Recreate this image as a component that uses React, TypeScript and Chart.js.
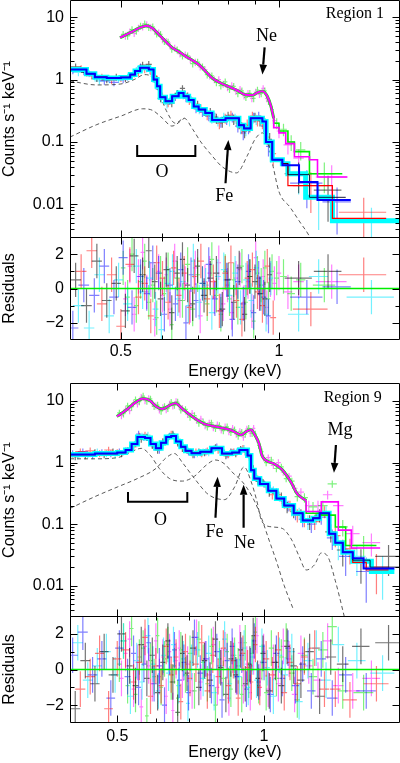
import { useEffect, useRef } from 'react';
import { Chart, registerables } from 'chart.js';
Chart.register(...registerables);

const SANS = '"Liberation Sans", Arimo, Arial, sans-serif';
const SERIF = '"Liberation Serif", "Times New Roman", serif';

// ================= REGION 1 =================
const R1_X_MIN = 0.4, R1_X_MAX = 1.7, R1_Y_MIN = 0.0029, R1_Y_MAX = 18.8;

const R1_LO_EDGES = [0.40, 0.43, 0.446, 0.47, 0.50, 0.521, 0.532, 0.544, 0.565, 0.577, 0.586, 0.594, 0.608, 0.626, 0.644, 0.658, 0.673, 0.688, 0.703, 0.724, 0.746, 0.791, 0.839, 0.858, 0.883, 0.930, 0.945, 0.971, 1.015];
const R1_LO_VALS = [1.45, 1.24, 1.09, 1.06, 1.08, 1.2, 1.37, 1.55, 1.45, 1.0, 0.78, 0.52, 0.45, 0.54, 0.61, 0.54, 0.47, 0.37, 0.33, 0.29, 0.226, 0.24, 0.186, 0.165, 0.24, 0.213, 0.10, 0.052];
const R1_BLK_TAIL_E = [1.015, 1.04, 1.143, 1.34];
const R1_BLK_TAIL_V = [0.045, 0.03, 0.013];
const R1_RED_TAIL_E = [1.015, 1.04, 1.264, 1.60];
const R1_RED_TAIL_V = [0.045, 0.02, 0.006];
const R1_BLU_TAIL_E = [1.015, 1.092, 1.184, 1.37];
const R1_BLU_TAIL_V = [0.0425, 0.0228, 0.0118];
const R1_CYA_TAIL_E = [1.015, 1.04, 1.124, 1.264, 1.70];
const R1_CYA_TAIL_V = [0.045, 0.031, 0.013, 0.0055];

const R1_UP_E = [0.498, 0.52, 0.54, 0.56, 0.575, 0.59, 0.61, 0.626, 0.645, 0.663, 0.683, 0.703, 0.725, 0.746, 0.77, 0.80, 0.83, 0.863, 0.89, 0.91, 0.93, 0.95, 0.965, 0.977];
const R1_UP_V = [4.7, 5.6, 6.6, 7.3, 6.6, 5.3, 4.0, 3.24, 2.8, 2.38, 2.05, 1.75, 1.35, 1.06, 0.9, 0.78, 0.68, 0.57, 0.56, 0.62, 0.65, 0.54, 0.38, 0.24];
const R1_MAG_TAIL_E = [0.977, 1.00, 1.03, 1.07, 1.143, 1.184, 1.35];
const R1_MAG_TAIL_V = [0.17, 0.14, 0.094, 0.058, 0.052, 0.0275];
const R1_GRN_TAIL_E = [0.977, 1.00, 1.04, 1.07, 1.143, 1.32];
const R1_GRN_TAIL_V = [0.2, 0.15, 0.1, 0.07, 0.031];

const R1_COMP_A_E = [0.40, 0.45, 0.50, 0.53, 0.555, 0.575, 0.59, 0.61, 0.635, 0.66, 0.685, 0.71, 0.74, 0.78, 0.83, 0.87, 0.90, 0.93, 0.955, 0.975, 1.0, 1.05, 1.10, 1.14, 1.17];
const R1_COMP_A_V = [0.95, 0.82, 0.85, 1.0, 1.2, 1.05, 0.65, 0.32, 0.2, 0.24, 0.16, 0.1, 0.065, 0.04, 0.032, 0.06, 0.11, 0.14, 0.09, 0.04, 0.016, 0.009, 0.005, 0.0032, 0.002];
const R1_COMP_B_E = [0.40, 0.45, 0.50, 0.55, 0.575, 0.60, 0.625, 0.66];
const R1_COMP_B_V = [0.12, 0.19, 0.26, 0.34, 0.32, 0.24, 0.18, 0.24];

const R1_BLK_E = [0.41, 0.43, 0.45, 0.47, 0.49, 0.51, 0.53, 0.55, 0.565, 0.58, 0.595, 0.61, 0.625, 0.64, 0.655, 0.67, 0.685, 0.70, 0.72, 0.74, 0.76, 0.78, 0.80, 0.82, 0.84, 0.86, 0.88, 0.90, 0.92, 0.94, 0.96, 1.09, 1.24];
const R1_BLK_V = [1.6, 1.3, 1.05, 1.0, 1.1, 1.05, 1.25, 1.7, 1.75, 1.1, 0.5, 0.48, 0.42, 0.6, 0.72, 0.55, 0.45, 0.4, 0.31, 0.3, 0.24, 0.21, 0.26, 0.23, 0.2, 0.15, 0.18, 0.25, 0.22, 0.2, 0.11, 0.031, 0.017];
const R1_BLK_R = [0.5, -1.0, 1.6, -0.7, 0.3, -1.3, 1.9, 0.8, 2.2, 0.4, -0.6, 1.1, -1.4, 0.9, 1.7, 0.2, -0.9, 1.3, -0.4, 0.6, 0.9, -1.2, 0.5, -0.8, 1.2, -1.5, 0.7, 0.4, -0.3, -0.6, 0.8, 0.6, 1.0];
const R1_RED_E = [0.42, 0.44, 0.46, 0.48, 0.50, 0.52, 0.54, 0.555, 0.57, 0.585, 0.60, 0.615, 0.63, 0.645, 0.66, 0.675, 0.69, 0.71, 0.73, 0.75, 0.77, 0.79, 0.81, 0.83, 0.85, 0.87, 0.89, 0.91, 0.93, 0.95, 0.975, 1.15, 1.45];
const R1_RED_V = [1.5, 1.15, 1.1, 0.98, 1.05, 1.15, 1.3, 1.45, 1.35, 1.05, 0.55, 0.42, 0.5, 0.58, 0.6, 0.45, 0.4, 0.35, 0.27, 0.25, 0.2, 0.24, 0.27, 0.22, 0.17, 0.19, 0.26, 0.22, 0.2, 0.12, 0.065, 0.02, 0.0075];
const R1_RED_R = [1.0, 2.2, -0.9, 0.8, -2.2, 1.4, -0.5, 0.3, -1.6, 1.5, 0.6, -0.8, 1.2, -0.4, 0.9, -1.1, 0.7, 1.6, -0.6, 0.4, -1.3, 0.9, 1.5, -0.7, -1.8, 0.6, 1.1, -0.2, -1.0, 1.3, -1.7, -1.2, 0.8];
const R1_BLU_E = [0.405, 0.425, 0.445, 0.465, 0.485, 0.505, 0.525, 0.545, 0.56, 0.575, 0.59, 0.605, 0.62, 0.635, 0.65, 0.665, 0.68, 0.695, 0.715, 0.735, 0.755, 0.775, 0.795, 0.815, 0.835, 0.855, 0.875, 0.895, 0.915, 0.935, 0.955, 1.13, 1.29];
const R1_BLU_V = [1.4, 1.35, 1.15, 0.95, 0.9, 1.0, 1.15, 1.6, 1.5, 1.35, 0.7, 0.5, 0.45, 0.52, 0.58, 0.5, 0.48, 0.34, 0.3, 0.26, 0.25, 0.21, 0.23, 0.25, 0.18, 0.14, 0.17, 0.25, 0.26, 0.18, 0.085, 0.022, 0.011];
const R1_BLU_R = [-2.3, 0.2, -0.4, 1.3, -0.5, 1.8, -1.1, 0.7, -0.3, 1.5, 0.9, -1.5, 0.2, -0.9, 1.1, -2.0, 0.8, -0.7, 0.3, 1.4, -0.6, -1.3, 0.5, -1.8, 0.4, -0.9, 1.0, -1.4, 0.6, -0.5, -1.6, -0.5, 0.1];
const R1_CYA_E = [0.415, 0.435, 0.455, 0.475, 0.495, 0.515, 0.535, 0.55, 0.567, 0.582, 0.597, 0.612, 0.627, 0.642, 0.657, 0.672, 0.687, 0.705, 0.725, 0.745, 0.765, 0.785, 0.805, 0.825, 0.845, 0.865, 0.885, 0.905, 0.925, 0.945, 0.965, 1.09, 1.19, 1.50];
const R1_CYA_V = [1.3, 1.25, 0.95, 1.0, 1.02, 1.1, 1.4, 1.5, 1.4, 0.9, 0.48, 0.4, 0.5, 0.6, 0.55, 0.5, 0.42, 0.33, 0.3, 0.24, 0.22, 0.25, 0.22, 0.24, 0.17, 0.16, 0.2, 0.23, 0.22, 0.15, 0.07, 0.03, 0.013, 0.0052];
const R1_CYA_R = [-1.0, -2.3, 0.8, -1.6, 0.5, -0.9, 1.3, -0.2, 0.6, -1.2, -2.4, 0.3, 1.0, -0.6, 0.4, -1.0, 1.6, -0.8, 0.2, -1.4, 0.7, 1.1, -0.4, 0.9, -1.1, 0.5, -0.7, 1.2, -0.3, -1.5, 0.6, -1.5, 0.7, -0.5];
const R1_GRN_E = [0.505, 0.515, 0.525, 0.535, 0.545, 0.555, 0.565, 0.575, 0.585, 0.595, 0.605, 0.615, 0.625, 0.64, 0.655, 0.67, 0.685, 0.70, 0.715, 0.73, 0.745, 0.76, 0.775, 0.79, 0.805, 0.82, 0.835, 0.85, 0.865, 0.88, 0.895, 0.91, 0.925, 0.94, 0.955, 0.97, 0.99, 1.02, 1.055, 1.10, 1.22];
const R1_GRN_V = [5.3, 5.0, 6.3, 6.0, 7.2, 7.8, 6.9, 7.0, 5.4, 5.3, 4.1, 4.0, 3.1, 3.0, 2.4, 2.4, 1.8, 1.9, 1.6, 1.2, 1.15, 0.9, 0.8, 0.92, 0.7, 0.78, 0.6, 0.66, 0.52, 0.6, 0.5, 0.68, 0.6, 0.66, 0.45, 0.33, 0.2, 0.16, 0.1, 0.075, 0.031];
const R1_GRN_R = [1.2, -0.5, 2.0, -1.0, 0.4, 1.6, -0.8, 0.2, -1.7, 0.9, -0.3, 1.1, -2.1, 0.6, -0.7, 1.4, -1.2, 0.8, 0.3, -0.9, 1.7, -0.4, -1.5, 1.0, -0.6, 0.5, -1.1, 1.3, -0.8, 0.7, -1.9, 0.9, 0.2, 1.2, -0.6, 1.0, 0.6, 0.7, -0.3, 0.5, 0.2];
const R1_MAG_E = [0.51, 0.52, 0.53, 0.54, 0.55, 0.56, 0.57, 0.58, 0.59, 0.60, 0.61, 0.62, 0.633, 0.648, 0.663, 0.678, 0.693, 0.708, 0.723, 0.738, 0.753, 0.768, 0.783, 0.798, 0.813, 0.828, 0.843, 0.858, 0.873, 0.888, 0.903, 0.918, 0.933, 0.948, 0.963, 0.98, 1.0, 1.04, 1.09, 1.26];
const R1_MAG_V = [5.0, 5.8, 5.5, 6.7, 7.0, 7.6, 6.8, 6.0, 5.6, 4.4, 4.1, 3.5, 3.2, 2.6, 2.5, 2.1, 1.9, 1.6, 1.45, 1.15, 1.0, 1.0, 0.85, 0.75, 0.8, 0.65, 0.7, 0.55, 0.6, 0.5, 0.63, 0.58, 0.72, 0.5, 0.4, 0.22, 0.15, 0.09, 0.055, 0.0275];
const R1_MAG_R = [-0.6, 1.3, -1.5, 0.7, 2.1, -0.2, 0.5, -1.8, 1.0, -0.4, 0.8, -1.2, 1.6, -0.7, 0.3, -1.0, 1.2, -1.6, 0.4, 0.9, -0.5, 1.5, -0.9, 0.2, -1.4, 0.6, 1.1, -0.8, 0.4, -1.3, 1.8, -0.3, 0.7, -1.1, 0.5, 0.3, 0.9, -0.2, 0.4, 0.4];

const R1_NOTES = [
  { kind: 'text', x: 1.395, y: 11.2, text: 'Region 1', size: 16 },
  { kind: 'text', x: 0.947, y: 4.94, text: 'Ne', size: 18 },
  { kind: 'arrow', x1: 0.939, y1: 3.28, x2: 0.930, y2: 1.2 },
  { kind: 'text', x: 0.787, y: 0.0135, text: 'Fe', size: 18 },
  { kind: 'arrow', x1: 0.791, y1: 0.0218, x2: 0.801, y2: 0.1076 },
  { kind: 'text', x: 0.599, y: 0.0328, text: 'O', size: 18 },
  { kind: 'bracket', x1: 0.537, x2: 0.693, y: 0.0594, yEnd: 0.0895 },
];

// ================= REGION 9 =================
const R2_X_MIN = 0.4, R2_X_MAX = 1.9, R2_Y_MIN = 0.0031, R2_Y_MAX = 19.6;

const R2_LO_EDGES = [0.40, 0.45, 0.50, 0.52, 0.535, 0.55, 0.57, 0.585, 0.60, 0.615, 0.63, 0.645, 0.66, 0.675, 0.69, 0.71, 0.74, 0.78, 0.82, 0.86, 0.89, 0.925, 0.94, 0.955, 0.98, 1.02, 1.06, 1.10, 1.15, 1.20, 1.26, 1.30, 1.36, 1.40, 1.45, 1.52];
const R2_LO_VALS = [1.35, 1.4, 1.45, 1.6, 2.0, 2.6, 2.5, 2.0, 1.7, 2.1, 2.6, 2.7, 2.2, 1.8, 1.55, 1.42, 1.5, 1.7, 1.4, 1.45, 1.6, 1.3, 0.75, 0.55, 0.45, 0.35, 0.26, 0.2, 0.15, 0.115, 0.125, 0.15, 0.07, 0.05, 0.035];
const R2_BLK_TAIL_E = [1.52, 1.65, 1.90];
const R2_BLK_TAIL_V = [0.026, 0.02];
const R2_RED_TAIL_E = [1.52, 1.62, 1.80];
const R2_RED_TAIL_V = [0.024, 0.018];
const R2_BLU_TAIL_E = [1.52, 1.60, 1.85];
const R2_BLU_TAIL_V = [0.028, 0.019];
const R2_CYA_TAIL_E = [1.52, 1.66, 1.85];
const R2_CYA_TAIL_V = [0.025, 0.017];

const R2_UP_E = [0.499, 0.52, 0.545, 0.566, 0.585, 0.60, 0.618, 0.64, 0.658, 0.68, 0.712, 0.752, 0.80, 0.84, 0.867, 0.897, 0.92, 0.94, 0.96, 0.976, 0.99, 1.01, 1.05, 1.09, 1.134, 1.17, 1.22];
const R2_UP_V = [5.6, 7.0, 9.5, 11, 10, 8.2, 7.4, 8.5, 9.2, 7.5, 5.6, 4.3, 3.8, 3.5, 3.2, 2.8, 3.2, 3.4, 2.7, 2.05, 1.3, 1.08, 0.95, 0.76, 0.49, 0.31, 0.24];
const R2_MAG_TAIL_E = [1.22, 1.31, 1.42, 1.51, 1.73];
const R2_MAG_TAIL_V = [0.16, 0.23, 0.08, 0.041];
const R2_GRN_TAIL_E = [1.22, 1.31, 1.40, 1.47, 1.70];
const R2_GRN_TAIL_V = [0.15, 0.14, 0.09, 0.045];

const R2_COMP_P_E = [0.40, 0.45, 0.50, 0.53, 0.56, 0.585, 0.61, 0.64, 0.68, 0.72, 0.76, 0.795, 0.83, 0.86, 0.90, 0.93, 0.96, 0.99, 1.02, 1.06, 1.10, 1.15];
const R2_COMP_P_V = [1.15, 1.15, 1.2, 1.45, 1.7, 1.3, 0.8, 0.55, 0.5, 0.6, 0.9, 1.1, 0.95, 0.7, 0.5, 0.35, 0.22, 0.12, 0.06, 0.025, 0.01, 0.004];
const R2_COMP_Q_E = [0.40, 0.45, 0.50, 0.55, 0.60, 0.63, 0.655, 0.68, 0.72, 0.77, 0.83, 0.87, 0.91, 0.94, 0.965, 0.99, 1.04, 1.09, 1.14, 1.18, 1.22, 1.27, 1.31, 1.35, 1.40, 1.45, 1.48];
const R2_COMP_Q_V = [0.18, 0.28, 0.4, 0.55, 0.8, 1.2, 1.4, 1.0, 0.55, 0.3, 0.25, 0.4, 0.85, 0.5, 0.25, 0.11, 0.09, 0.085, 0.055, 0.03, 0.018, 0.022, 0.034, 0.03, 0.012, 0.004, 0.002];

const R2_BLK_E = [0.41, 0.43, 0.45, 0.47, 0.49, 0.51, 0.53, 0.545, 0.56, 0.575, 0.59, 0.605, 0.62, 0.635, 0.65, 0.665, 0.68, 0.695, 0.715, 0.735, 0.755, 0.775, 0.795, 0.815, 0.835, 0.855, 0.875, 0.895, 0.915, 0.935, 0.95, 0.97, 0.995, 1.025, 1.055, 1.085, 1.115, 1.15, 1.19, 1.24, 1.30, 1.37, 1.45, 1.58, 1.80];
const R2_BLK_V = [1.25, 1.3, 1.45, 1.35, 1.5, 1.4, 1.7, 2.1, 2.4, 2.6, 1.9, 1.6, 2.2, 2.5, 2.9, 2.1, 1.7, 1.6, 1.35, 1.5, 1.45, 1.6, 1.75, 1.6, 1.3, 1.5, 1.4, 1.65, 1.5, 1.2, 0.8, 0.5, 0.48, 0.33, 0.32, 0.28, 0.19, 0.16, 0.14, 0.11, 0.14, 0.075, 0.038, 0.025, 0.03];
const R2_BLK_R = [-2.2, 0.5, -0.8, 1.0, -0.3, 2.0, 0.2, -0.9, 1.4, -0.5, 0.8, -1.3, 0.4, 1.6, -0.7, -2.4, 0.9, -0.2, 1.2, -1.0, 0.5, -0.6, 1.7, 0.1, -1.4, 0.6, -0.3, 1.1, -0.8, 0.3, 1.9, -0.5, 0.9, -1.2, 0.4, -0.9, 1.3, 0.2, -0.6, 1.0, -1.5, 0.7, 0.3, 1.3, 1.5];
const R2_RED_E = [0.42, 0.44, 0.46, 0.48, 0.50, 0.52, 0.54, 0.555, 0.57, 0.585, 0.60, 0.615, 0.63, 0.645, 0.66, 0.675, 0.69, 0.705, 0.725, 0.745, 0.765, 0.785, 0.805, 0.825, 0.845, 0.865, 0.885, 0.905, 0.925, 0.942, 0.96, 0.98, 1.01, 1.04, 1.07, 1.10, 1.13, 1.17, 1.21, 1.27, 1.33, 1.40, 1.50, 1.70];
const R2_RED_V = [1.5, 1.55, 1.4, 1.6, 1.45, 1.55, 1.8, 2.7, 2.8, 2.4, 1.8, 1.9, 2.4, 2.9, 2.5, 1.9, 1.7, 1.5, 1.5, 1.4, 1.55, 1.65, 1.6, 1.5, 1.35, 1.5, 1.55, 1.7, 1.4, 0.9, 0.62, 0.5, 0.42, 0.3, 0.3, 0.22, 0.2, 0.14, 0.12, 0.11, 0.16, 0.065, 0.04, 0.02];
const R2_RED_R = [-1.1, -0.4, 0.9, -2.2, 0.6, 1.1, -0.7, 0.4, 1.8, -1.5, 0.2, -0.9, 1.3, -0.3, 0.7, -1.8, 1.0, -0.5, 0.3, 1.5, -1.2, 0.8, -0.4, 1.2, -0.9, 0.5, -1.6, 0.9, 0.1, -0.7, 1.4, -1.0, 0.6, -0.3, 1.1, -1.3, 0.4, -0.8, 0.7, 1.2, -1.1, -1.1, -1.7, -0.8];
const R2_BLU_E = [0.405, 0.425, 0.445, 0.465, 0.485, 0.505, 0.525, 0.54, 0.553, 0.567, 0.58, 0.595, 0.61, 0.625, 0.64, 0.655, 0.67, 0.685, 0.70, 0.72, 0.74, 0.76, 0.78, 0.80, 0.82, 0.84, 0.86, 0.88, 0.90, 0.92, 0.938, 0.955, 0.975, 1.00, 1.03, 1.06, 1.09, 1.12, 1.16, 1.20, 1.25, 1.31, 1.38, 1.47, 1.62];
const R2_BLU_V = [1.4, 1.5, 1.3, 1.45, 1.4, 1.5, 1.55, 1.9, 2.9, 2.6, 2.3, 1.8, 1.6, 2.3, 2.7, 2.6, 2.0, 1.7, 1.5, 1.35, 1.45, 1.5, 1.6, 1.8, 1.55, 1.35, 1.45, 1.5, 1.6, 1.5, 1.1, 0.6, 0.5, 0.45, 0.38, 0.33, 0.24, 0.2, 0.15, 0.12, 0.1, 0.13, 0.06, 0.03, 0.017];
const R2_BLU_R = [0.8, 2.1, -0.3, 0.6, -1.6, 1.2, -0.4, 0.9, -1.0, 0.3, 1.5, -0.8, 0.2, -2.0, 0.7, 1.1, -0.6, 0.4, -1.3, 1.8, -0.2, 0.6, -0.9, 1.0, -1.7, 0.5, 1.3, -0.4, 0.8, -1.1, 0.2, 1.6, -0.7, 0.4, -1.4, 0.9, -0.5, 1.2, -0.9, 0.3, -1.2, 0.6, -1.6, -0.3, -1.2];
const R2_CYA_E = [0.415, 0.435, 0.455, 0.475, 0.495, 0.515, 0.532, 0.548, 0.562, 0.578, 0.592, 0.607, 0.622, 0.637, 0.652, 0.668, 0.683, 0.698, 0.71, 0.73, 0.75, 0.77, 0.79, 0.81, 0.83, 0.85, 0.87, 0.89, 0.91, 0.928, 0.945, 0.965, 0.99, 1.015, 1.045, 1.075, 1.105, 1.14, 1.18, 1.23, 1.28, 1.34, 1.42, 1.55, 1.75];
const R2_CYA_V = [1.3, 1.35, 1.5, 1.4, 1.35, 1.5, 1.7, 2.2, 2.7, 2.8, 2.1, 1.75, 1.9, 2.6, 2.8, 2.4, 1.9, 1.6, 1.45, 1.4, 1.5, 1.45, 1.7, 1.65, 1.45, 1.4, 1.5, 1.55, 1.7, 1.35, 0.85, 0.6, 0.5, 0.4, 0.36, 0.28, 0.22, 0.17, 0.15, 0.11, 0.13, 0.16, 0.045, 0.03, 0.018];
const R2_CYA_R = [1.5, -0.6, 0.2, 1.0, -0.3, 1.6, -1.5, 0.5, -0.7, 1.9, 0.3, -1.2, 0.8, -0.2, 1.4, -0.9, 0.6, -1.9, 0.4, 1.1, -0.5, 0.9, -1.3, 0.2, 1.7, -0.8, 0.5, -0.4, 1.2, -1.0, 0.7, -0.6, 1.3, 0.1, -1.5, 0.8, -0.3, 1.0, -1.8, 0.5, 1.2, -0.6, 1.4, 0.5, -0.2];
const R2_GRN_E = [0.505, 0.515, 0.525, 0.535, 0.545, 0.555, 0.565, 0.575, 0.585, 0.595, 0.605, 0.615, 0.625, 0.635, 0.645, 0.655, 0.665, 0.675, 0.69, 0.705, 0.72, 0.735, 0.75, 0.765, 0.78, 0.795, 0.81, 0.825, 0.84, 0.855, 0.87, 0.885, 0.90, 0.915, 0.93, 0.945, 0.96, 0.975, 0.99, 1.01, 1.035, 1.06, 1.085, 1.11, 1.14, 1.17, 1.21, 1.26, 1.32, 1.38, 1.45, 1.60];
const R2_GRN_V = [6.4, 6.2, 8.3, 8.0, 10.5, 9.8, 12.0, 10.0, 10.8, 8.2, 8.6, 6.9, 8.1, 7.6, 9.5, 8.6, 9.6, 7.2, 7.3, 5.5, 5.8, 4.4, 4.6, 3.8, 4.4, 3.6, 4.0, 3.3, 3.8, 3.1, 3.4, 2.7, 3.1, 2.9, 3.6, 3.0, 2.9, 1.9, 1.5, 1.0, 1.1, 0.8, 0.85, 0.55, 0.5, 0.28, 0.27, 0.19, 0.2, 0.45, 0.09, 0.045];
const R2_GRN_R = [0.3, 1.6, -0.9, 2.3, -1.4, 0.7, 1.2, -2.6, 0.5, -0.4, 1.9, -1.0, 0.6, 1.4, -0.7, 0.2, -1.6, 1.1, -0.3, 0.9, -1.2, 1.7, 0.4, -0.8, 1.3, -2.0, 0.6, -0.5, 1.0, -1.1, 0.8, 0.2, -1.4, 1.5, -0.6, 0.9, 2.1, -0.9, 0.4, -1.3, 1.2, -0.5, 0.7, 1.6, -0.2, -1.7, 0.8, -0.4, 1.1, 2.4, -1.2, -1.3];
const R2_MAG_E = [0.51, 0.52, 0.53, 0.54, 0.55, 0.56, 0.57, 0.58, 0.59, 0.60, 0.61, 0.62, 0.63, 0.64, 0.65, 0.66, 0.67, 0.68, 0.697, 0.712, 0.727, 0.742, 0.757, 0.772, 0.787, 0.802, 0.817, 0.832, 0.847, 0.862, 0.877, 0.892, 0.907, 0.922, 0.937, 0.952, 0.967, 0.982, 0.998, 1.02, 1.045, 1.07, 1.095, 1.125, 1.155, 1.19, 1.235, 1.29, 1.35, 1.42, 1.52, 1.66];
const R2_MAG_V = [5.8, 7.3, 7.0, 9.2, 9.0, 11.5, 10.2, 11.0, 9.2, 8.4, 7.2, 7.8, 7.3, 8.9, 8.4, 9.8, 8.3, 7.6, 6.1, 6.3, 4.9, 5.1, 4.0, 4.4, 3.7, 4.1, 3.4, 3.8, 3.2, 3.6, 2.9, 3.2, 2.6, 3.5, 3.0, 3.6, 2.4, 1.8, 1.2, 1.2, 0.9, 1.0, 0.7, 0.6, 0.38, 0.33, 0.2, 0.2, 0.3, 0.2, 0.07, 0.05];
const R2_MAG_R = [-0.5, 0.9, 1.7, -1.1, 0.4, -2.1, 1.3, 0.2, -0.8, 1.6, -0.4, 0.7, -1.5, 1.0, -2.3, 0.5, 1.2, -0.6, 0.3, -1.2, 1.8, -0.7, 0.6, -0.3, 1.4, -1.0, 0.2, 1.1, -1.6, 0.8, -0.4, 1.5, -0.9, 0.3, -1.3, 0.7, 1.9, -0.5, 1.0, -1.1, 0.4, -0.8, 1.3, 0.6, -1.4, 0.9, 0.2, -0.6, 1.6, -0.9, -1.2, -0.5];

const R2_NOTES = [
  { kind: 'text', x: 1.52, y: 11.2, text: 'Region 9', size: 16 },
  { kind: 'text', x: 1.431, y: 3.39, text: 'Mg', size: 18 },
  { kind: 'arrow', x1: 1.404, y1: 1.93, x2: 1.391, y2: 0.68 },
  { kind: 'text', x: 0.791, y: 0.0751, text: 'Fe', size: 18 },
  { kind: 'arrow', x1: 0.795, y1: 0.127, x2: 0.803, y2: 0.586 },
  { kind: 'text', x: 0.912, y: 0.048, text: 'Ne', size: 18 },
  { kind: 'arrow', x1: 0.908, y1: 0.0873, x2: 0.908, y2: 0.434 },
  { kind: 'text', x: 0.613, y: 0.1175, text: 'O', size: 18 },
  { kind: 'bracket', x1: 0.526, x2: 0.696, y: 0.230, yEnd: 0.334 },
];

const X_TICK_VALUES = [0.4, 0.5, 0.6, 0.7, 0.8, 0.9, 1.0, 2.0];
const X_MAJOR = [0.5, 1.0];

// ================= helpers =================
type Pt = { x: number; y: number | null };

function curve(es: number[], vs: number[]): Pt[] {
  const n = Math.min(es.length, vs.length);
  const out: Pt[] = [];
  for (let i = 0; i < n; i++) out.push({ x: es[i], y: vs[i] });
  return out;
}
function steps(edges: number[], vals: number[], join?: number): Pt[] {
  const out: Pt[] = [];
  if (join !== undefined) out.push({ x: edges[0], y: join });
  for (let i = 0; i < vals.length; i++) out.push({ x: edges[i], y: vals[i] });
  out.push({ x: edges[vals.length], y: vals[vals.length - 1] });
  return out;
}
function joinSteps(baseE: number[], baseV: number[], tailE: number[], tailV: number[]): Pt[] {
  return steps(baseE.concat(tailE.slice(1)), baseV.concat(tailV));
}
function halfWidths(es: number[]): number[] {
  return es.map((e, i) => {
    const l = i > 0 ? e - es[i - 1] : Infinity;
    const r = i < es.length - 1 ? es[i + 1] - e : Infinity;
    let w = Math.min(l, r);
    if (!isFinite(w)) w = 0.02;
    return w / 2;
  });
}
function crosses(es: number[], vs: number[], resid: boolean): Pt[] {
  const n = Math.min(es.length, vs.length);
  const e2 = es.slice(0, n);
  const hw = halfWidths(e2);
  const out: Pt[] = [];
  for (let i = 0; i < n; i++) {
    const e = e2[i], v = vs[i], dx = hw[i];
    let lo: number, hi: number;
    if (resid) { lo = v - 1; hi = v + 1; }
    else {
      const r = Math.min(0.7, Math.max(0.13, 0.09 / Math.sqrt(v)));
      lo = v * (1 - r); hi = v * (1 + r);
    }
    out.push({ x: e - dx, y: v }, { x: e + dx, y: v }, { x: e, y: null },
      { x: e, y: lo }, { x: e, y: hi }, { x: e, y: null });
  }
  return out;
}
function ds(data: Pt[], color: string, width: number, extra: any = {}) {
  return { data, borderColor: color, backgroundColor: color, borderWidth: width, pointRadius: 0, pointHoverRadius: 0, fill: false, tension: 0, spanGaps: false, ...extra };
}

const C = { black: '#000000', red: '#ff0000', green: '#00ee00', blue: '#0000ff', cyan: '#00ffff', magenta: '#ff00ff' };
const F = { black: 'rgba(0,0,0,0.55)', red: 'rgba(255,0,0,0.5)', green: 'rgba(0,230,0,0.5)', blue: 'rgba(0,0,255,0.5)', cyan: 'rgba(0,230,255,0.55)', magenta: 'rgba(255,0,255,0.5)' };

function makeFrame(xTicks: { v: number; major: boolean }[], yTicks: { v: number; major: boolean }[]) {
  return {
    id: 'frame',
    afterDatasetsDraw(chart: any) {
      const { ctx, chartArea } = chart;
      const L = Math.round(chartArea.left) + 0.5, R = Math.round(chartArea.right) - 0.5;
      const T = Math.round(chartArea.top) + 0.5, B = Math.round(chartArea.bottom) - 0.5;
      const xs = chart.scales.x, ys = chart.scales.y;
      ctx.save();
      ctx.strokeStyle = '#000';
      ctx.lineWidth = 1;
      ctx.beginPath();
      ctx.rect(L, T, R - L, B - T);
      for (const t of xTicks) {
        const p = Math.round(xs.getPixelForValue(t.v)) + 0.5;
        if (p <= L + 1 || p >= R - 1) continue;
        const len = t.major ? 7 : 4;
        ctx.moveTo(p, B); ctx.lineTo(p, B - len);
        ctx.moveTo(p, T); ctx.lineTo(p, T + len);
      }
      for (const t of yTicks) {
        const p = Math.round(ys.getPixelForValue(t.v)) + 0.5;
        if (p <= T + 1 || p >= B - 1) continue;
        const len = t.major ? 7 : 4;
        ctx.moveTo(L, p); ctx.lineTo(L + len, p);
        ctx.moveTo(R, p); ctx.lineTo(R - len, p);
      }
      ctx.stroke();
      ctx.restore();
    },
  };
}

function makeNotes(notes: any[]) {
  return {
    id: 'notes',
    afterDraw(chart: any) {
      const { ctx } = chart;
      const xs = chart.scales.x, ys = chart.scales.y;
      const px = (v: number) => xs.getPixelForValue(v);
      const py = (v: number) => ys.getPixelForValue(v);
      ctx.save();
      ctx.fillStyle = '#000';
      ctx.strokeStyle = '#000';
      for (const n of notes) {
        if (n.kind === 'text') {
          ctx.font = `${n.size}px ${SERIF}`;
          ctx.textAlign = 'center';
          ctx.textBaseline = 'middle';
          ctx.fillText(n.text, px(n.x), py(n.y));
        } else if (n.kind === 'arrow') {
          const x1 = px(n.x1), y1 = py(n.y1), x2 = px(n.x2), y2 = py(n.y2);
          const ang = Math.atan2(y2 - y1, x2 - x1);
          const hl = 10, hw = 3.8;
          const bx = x2 - hl * Math.cos(ang), by = y2 - hl * Math.sin(ang);
          ctx.lineWidth = 2.2;
          ctx.beginPath(); ctx.moveTo(x1, y1); ctx.lineTo(bx, by); ctx.stroke();
          ctx.beginPath();
          ctx.moveTo(x2, y2);
          ctx.lineTo(bx + hw * Math.sin(ang), by - hw * Math.cos(ang));
          ctx.lineTo(bx - hw * Math.sin(ang), by + hw * Math.cos(ang));
          ctx.closePath(); ctx.fill();
        } else if (n.kind === 'bracket') {
          ctx.lineWidth = 2;
          ctx.beginPath();
          ctx.moveTo(px(n.x1), py(n.yEnd));
          ctx.lineTo(px(n.x1), py(n.y));
          ctx.lineTo(px(n.x2), py(n.y));
          ctx.lineTo(px(n.x2), py(n.yEnd));
          ctx.stroke();
        }
      }
      ctx.restore();
    },
  };
}

function xTickList(min: number, max: number) {
  return X_TICK_VALUES.filter(v => v > min && v < max).map(v => ({ v, major: X_MAJOR.includes(v) }));
}
function logTickList(min: number, max: number) {
  const out: { v: number; major: boolean }[] = [];
  for (let d = -4; d <= 2; d++) {
    for (let m = 1; m <= 9; m++) {
      const v = m * Math.pow(10, d);
      if (v > min && v < max) out.push({ v, major: m === 1 });
    }
  }
  return out;
}

const TICK_FONT = { family: SANS, size: 16 };

function spectrumConfig(r: any) {
  const datasets = [
    ds(joinSteps(r.loE, r.loV, r.bluTE, r.bluTV), C.blue, 2, { stepped: true }),
    ds(joinSteps(r.loE, r.loV, r.blkTE, r.blkTV), 'rgba(0,0,40,0.9)', 1, { stepped: true }),
    ds(joinSteps(r.loE, r.loV, r.redTE, r.redTV), C.red, 1.2, { stepped: true }),
    ds(curve(r.upE, r.upV), C.magenta, 2, { cubicInterpolationMode: 'monotone' }),
    ds(steps(r.magTE, r.magTV, r.upV[r.upV.length - 1]), C.magenta, 1.6, { stepped: true }),
    ds(steps(r.grnTE, r.grnTV, r.upV[r.upV.length - 1]), C.green, 1.6, { stepped: true }),
    ds(curve(r.upE, r.upV), C.green, 3, { cubicInterpolationMode: 'monotone' }),
    ds(joinSteps(r.loE, r.loV, r.cyaTE, r.cyaTV), C.cyan, 5, { stepped: true }),
    ds(curve(r.aE, r.aV), 'rgba(60,60,60,0.85)', 1, { borderDash: [4, 3], cubicInterpolationMode: 'monotone' }),
    ds(curve(r.bE, r.bV), 'rgba(60,60,60,0.85)', 1, { borderDash: [4, 3], cubicInterpolationMode: 'monotone' }),
    ds(crosses(r.blkE, r.blkV, false), F.black, 1.2),
    ds(crosses(r.redE, r.redV, false), F.red, 1.2),
    ds(crosses(r.bluE, r.bluV, false), F.blue, 1.2),
    ds(crosses(r.cyaE, r.cyaV, false), F.cyan, 1.2),
    ds(crosses(r.grnE, r.grnV, false), F.green, 1.2),
    ds(crosses(r.magE, r.magV, false), F.magenta, 1.2),
  ];
  return {
    type: 'line',
    data: { datasets },
    options: {
      animation: false, responsive: false, maintainAspectRatio: false, devicePixelRatio: 1, events: [],
      layout: { padding: { top: 0, right: 0, bottom: 0, left: 0 } },
      plugins: { legend: { display: false }, tooltip: { enabled: false } },
      scales: {
        x: { type: 'logarithmic', min: r.xMin, max: r.xMax, display: false },
        y: {
          type: 'logarithmic', min: r.yMin, max: r.yMax,
          afterFit: (s: any) => { s.width = 70; s.paddingTop = 0; s.paddingBottom = 0; },
          afterBuildTicks: (s: any) => { s.ticks = [0.01, 0.1, 1, 10].map(v => ({ value: v })); },
          ticks: { callback: (v: any) => String(v), font: TICK_FONT, color: '#000', padding: 6, autoSkip: false },
          grid: { display: false, drawTicks: false },
          border: { display: false },
          title: { display: true, text: 'Counts s\u207B\u00B9 keV\u207B\u00B9', font: { family: SANS, size: 16 }, color: '#000', padding: { top: 0, bottom: 0 } },
        },
      },
    },
    plugins: [makeFrame(xTickList(r.xMin, r.xMax), logTickList(r.yMin, r.yMax)), makeNotes(r.notes)],
  };
}

function residualConfig(r: any, axisH: number, labelPad: number, titlePad: number) {
  const datasets = [
    ds([{ x: r.xMin, y: 0 }, { x: r.xMax, y: 0 }], '#00ee00', 1.5),
    ds(crosses(r.blkE, r.blkR, true), F.black, 1.2),
    ds(crosses(r.redE, r.redR, true), F.red, 1.2),
    ds(crosses(r.bluE, r.bluR, true), F.blue, 1.2),
    ds(crosses(r.cyaE, r.cyaR, true), F.cyan, 1.2),
    ds(crosses(r.grnE, r.grnR, true), F.green, 1.2),
    ds(crosses(r.magE, r.magR, true), F.magenta, 1.2),
  ];
  return {
    type: 'line',
    data: { datasets },
    options: {
      animation: false, responsive: false, maintainAspectRatio: false, devicePixelRatio: 1, events: [],
      layout: { padding: { top: 0, right: 0, bottom: 0, left: 0 } },
      plugins: { legend: { display: false }, tooltip: { enabled: false } },
      scales: {
        x: {
          type: 'logarithmic', min: r.xMin, max: r.xMax,
          afterFit: (s: any) => { s.height = axisH; s.paddingLeft = 0; s.paddingRight = 0; },
          afterBuildTicks: (s: any) => { s.ticks = [0.5, 1].map(v => ({ value: v })); },
          ticks: { callback: (v: any) => (v === 0.5 ? '0.5' : v === 1 ? '1' : ''), font: TICK_FONT, color: '#000', padding: labelPad, maxRotation: 0, autoSkip: false },
          grid: { display: false, drawTicks: false },
          border: { display: false },
          title: { display: true, text: 'Energy (keV)', font: { family: SANS, size: 16 }, color: '#000', padding: { top: 0, bottom: titlePad } },
        },
        y: {
          type: 'linear', min: -3, max: 3,
          afterFit: (s: any) => { s.width = 70; s.paddingTop = 0; s.paddingBottom = 0; },
          afterBuildTicks: (s: any) => { s.ticks = [-2, 0, 2].map(v => ({ value: v })); },
          ticks: { callback: (v: any) => (v < 0 ? '\u2212' + Math.abs(v) : String(v)), font: TICK_FONT, color: '#000', padding: 6, autoSkip: false },
          grid: { display: false, drawTicks: false },
          border: { display: false },
          title: { display: true, text: 'Residuals', font: { family: SANS, size: 16 }, color: '#000', padding: { top: 0, bottom: 0 } },
        },
      },
    },
    plugins: [makeFrame(xTickList(r.xMin, r.xMax), [-2, -1, 0, 1, 2].map(v => ({ v, major: v % 2 === 0 })))],
  };
}

const REGION1 = {
  xMin: R1_X_MIN, xMax: R1_X_MAX, yMin: R1_Y_MIN, yMax: R1_Y_MAX,
  loE: R1_LO_EDGES, loV: R1_LO_VALS,
  blkTE: R1_BLK_TAIL_E, blkTV: R1_BLK_TAIL_V, redTE: R1_RED_TAIL_E, redTV: R1_RED_TAIL_V,
  bluTE: R1_BLU_TAIL_E, bluTV: R1_BLU_TAIL_V, cyaTE: R1_CYA_TAIL_E, cyaTV: R1_CYA_TAIL_V,
  upE: R1_UP_E, upV: R1_UP_V, magTE: R1_MAG_TAIL_E, magTV: R1_MAG_TAIL_V, grnTE: R1_GRN_TAIL_E, grnTV: R1_GRN_TAIL_V,
  aE: R1_COMP_A_E, aV: R1_COMP_A_V, bE: R1_COMP_B_E, bV: R1_COMP_B_V,
  blkE: R1_BLK_E, blkV: R1_BLK_V, blkR: R1_BLK_R, redE: R1_RED_E, redV: R1_RED_V, redR: R1_RED_R,
  bluE: R1_BLU_E, bluV: R1_BLU_V, bluR: R1_BLU_R, cyaE: R1_CYA_E, cyaV: R1_CYA_V, cyaR: R1_CYA_R,
  grnE: R1_GRN_E, grnV: R1_GRN_V, grnR: R1_GRN_R, magE: R1_MAG_E, magV: R1_MAG_V, magR: R1_MAG_R,
  notes: R1_NOTES,
};
const REGION2 = {
  xMin: R2_X_MIN, xMax: R2_X_MAX, yMin: R2_Y_MIN, yMax: R2_Y_MAX,
  loE: R2_LO_EDGES, loV: R2_LO_VALS,
  blkTE: R2_BLK_TAIL_E, blkTV: R2_BLK_TAIL_V, redTE: R2_RED_TAIL_E, redTV: R2_RED_TAIL_V,
  bluTE: R2_BLU_TAIL_E, bluTV: R2_BLU_TAIL_V, cyaTE: R2_CYA_TAIL_E, cyaTV: R2_CYA_TAIL_V,
  upE: R2_UP_E, upV: R2_UP_V, magTE: R2_MAG_TAIL_E, magTV: R2_MAG_TAIL_V, grnTE: R2_GRN_TAIL_E, grnTV: R2_GRN_TAIL_V,
  aE: R2_COMP_P_E, aV: R2_COMP_P_V, bE: R2_COMP_Q_E, bV: R2_COMP_Q_V,
  blkE: R2_BLK_E, blkV: R2_BLK_V, blkR: R2_BLK_R, redE: R2_RED_E, redV: R2_RED_V, redR: R2_RED_R,
  bluE: R2_BLU_E, bluV: R2_BLU_V, bluR: R2_BLU_R, cyaE: R2_CYA_E, cyaV: R2_CYA_V, cyaR: R2_CYA_R,
  grnE: R2_GRN_E, grnV: R2_GRN_V, grnR: R2_GRN_R, magE: R2_MAG_E, magV: R2_MAG_V, magR: R2_MAG_R,
  notes: R2_NOTES,
};

function Panel({ top, height, make }: { top: number; height: number; make: () => any }) {
  const ref = useRef<HTMLCanvasElement | null>(null);
  useEffect(() => {
    const chart = new Chart(ref.current as HTMLCanvasElement, make());
    return () => chart.destroy();
  }, []);
  return (
    <canvas ref={ref} width={400} height={height}
      style={{ position: 'absolute', left: 0, top, width: 400, height, display: 'block' }} />
  );
}

export default function App() {
  return (
    <div style={{ position: 'absolute', left: 0, top: 0, width: 400, height: 763, background: '#fff', overflow: 'hidden' }}>
      <Panel top={0} height={238} make={() => spectrumConfig(REGION1)} />
      <Panel top={237} height={146} make={() => residualConfig(REGION1, 43, 2, 2)} />
      <Panel top={383} height={234} make={() => spectrumConfig(REGION2)} />
      <Panel top={616} height={147} make={() => residualConfig(REGION2, 40, 4, 1)} />
    </div>
  );
}
